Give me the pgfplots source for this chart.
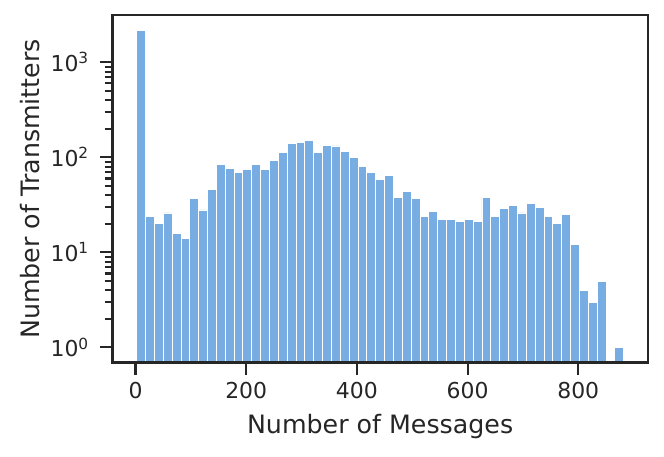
\documentclass[border=0pt]{standalone}
\usepackage{pgfplots}
\pgfplotsset{compat=1.18}
\usepackage{fontspec}
\setmainfont{DejaVu Sans}
\definecolor{barblue}{RGB}{120,173,227}
\definecolor{ink}{RGB}{38,38,38}
\pgfplotstableread{
x y
10 2150
26 24
42 20
58 26
74 16
90 14
106 37
122 28
138 46
154 85
170 77
186 69
202 74
218 85
234 75
250 92
266 112
282 139
298 143
314 150
330 113
346 133
362 132
378 115
394 100
410 81
426 70
442 58
458 65
474 38
490 44
506 37
522 24
538 27
554 22
570 22
586 21
602 22
618 21
634 38
650 24
666 29
682 31
698 26
714 33
730 30
746 24
762 20
778 25
794 12
810 4
826 3
842 5
874 1
}\histdata
\begin{document}
\begin{tikzpicture}
\begin{axis}[
  name=ax,
  scale only axis,
  width=267.9bp, height=173.9bp,
  xmin=-42, xmax=926,
  ymode=log, ymin=0.69, ymax=3150,
  log origin=infty,
  xtick={0,200,400,600,800},
  ytick={1,10,100,1000},
  yticklabels={10\textsuperscript{0},10\textsuperscript{1},10\textsuperscript{2},10\textsuperscript{3}},
  /pgf/number format/assume math mode=true,
  tick align=outside,
  xtick pos=bottom, ytick pos=left,
  major tick length=6bp,
  minor tick length=3.8bp,
  xtick style={draw=ink, line width=1.05bp},
  ytick style={draw=ink, line width=1.05bp},
  axis line style={draw=ink, line width=1.3bp},
  axis on top=true,
  tick label style={font=\fontsize{11}{13}\selectfont, text=ink},
  yticklabel style={xshift=-2bp},
  label style={font=\fontsize{12.7}{15}\selectfont, text=ink},
  xlabel={Number of Messages},
  ylabel={Number of Transmitters},
  xlabel style={at={(axis description cs:0.5,-0.184)}, anchor=center},
  ylabel style={at={(axis description cs:-0.153,0.5)}, anchor=center},
]
\addplot[ybar, bar width=16, bar shift=0pt, fill=barblue, draw=white, line width=0.4bp] table[x=x,y=y]{\histdata};
\end{axis}
\pgfresetboundingbox
\path[use as bounding box] ([shift={(-56.15bp,-46.65bp)}]ax.south west) rectangle ([shift={(8bp,7.5bp)}]ax.north east);
\end{tikzpicture}
\end{document}
